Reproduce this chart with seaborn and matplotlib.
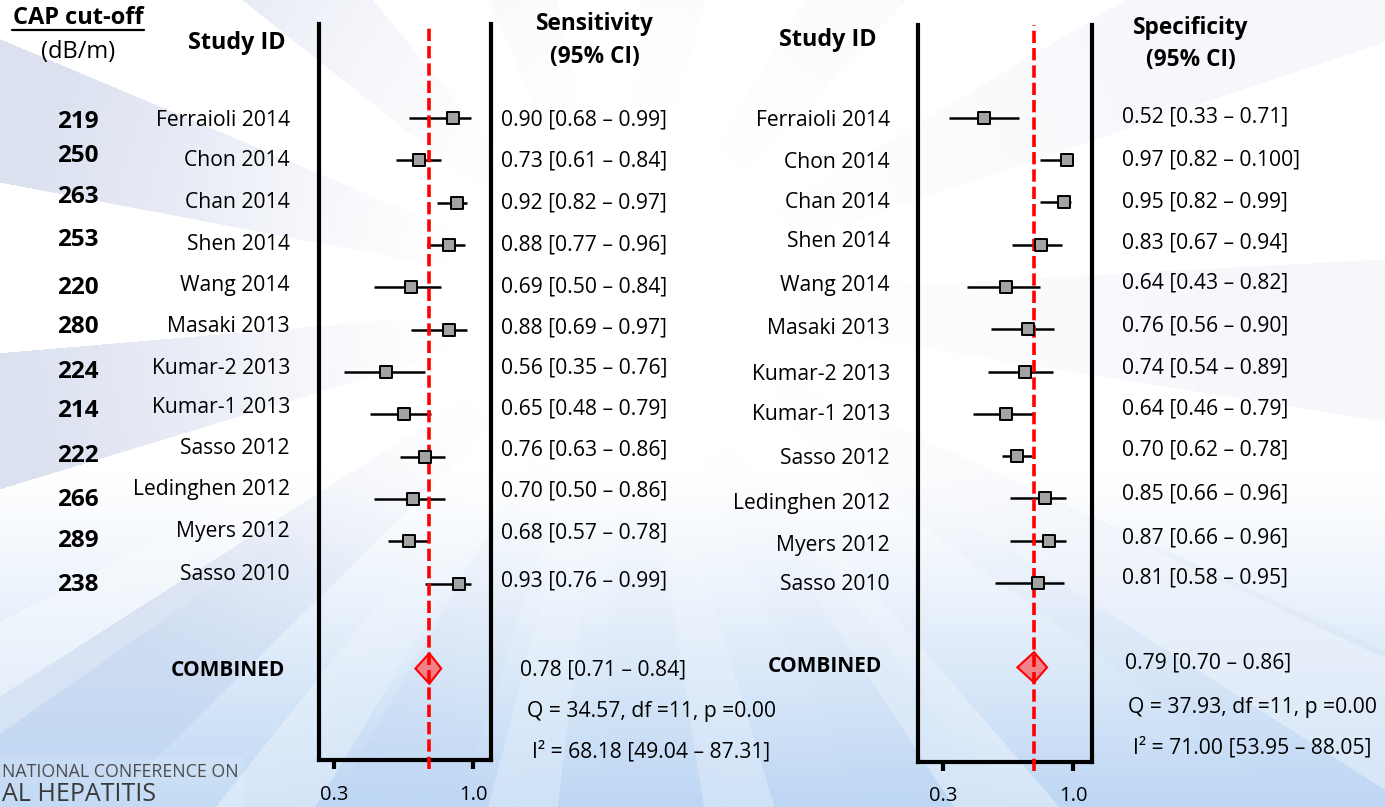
import numpy as np
import pandas as pd
import matplotlib
matplotlib.use("Agg")
import matplotlib.pyplot as plt
import seaborn as sns
from matplotlib.patches import Polygon, Rectangle
from matplotlib.lines import Line2D

# ---- data -------------------------------------------------------------
studies = ["Ferraioli 2014", "Chon 2014", "Chan 2014", "Shen 2014", "Wang 2014",
           "Masaki 2013", "Kumar-2 2013", "Kumar-1 2013", "Sasso 2012",
           "Ledinghen 2012", "Myers 2012", "Sasso 2010"]
cap_cutoff = [219, 250, 263, 253, 220, 280, 224, 214, 222, 266, 289, 238]

sens = [0.90, 0.73, 0.92, 0.88, 0.69, 0.88, 0.56, 0.65, 0.76, 0.70, 0.68, 0.93]
sens_lo = [0.68, 0.61, 0.82, 0.77, 0.50, 0.69, 0.35, 0.48, 0.63, 0.50, 0.57, 0.76]
sens_hi = [0.99, 0.84, 0.97, 0.96, 0.84, 0.97, 0.76, 0.79, 0.86, 0.86, 0.78, 0.99]

spec = [0.52, 0.97, 0.95, 0.83, 0.64, 0.76, 0.74, 0.64, 0.70, 0.85, 0.87, 0.81]
spec_lo = [0.33, 0.82, 0.82, 0.67, 0.43, 0.56, 0.54, 0.46, 0.62, 0.66, 0.66, 0.58]
spec_hi = [0.71, 1.00, 0.99, 0.94, 0.82, 0.90, 0.89, 0.79, 0.78, 0.96, 0.96, 0.95]
# upper bounds exactly as printed in the table column
spec_hi_printed = ["0.71", "0.100", "0.99", "0.94", "0.82", "0.90", "0.89", "0.79",
                   "0.78", "0.96", "0.96", "0.95"]

sens_pooled = (0.78, 0.71, 0.84)
spec_pooled = (0.79, 0.70, 0.86)
sens_het = ["Q = 34.57, df =11, p =0.00", "I\u00b2 = 68.18 [49.04 \u2013 87.31]"]
spec_het = ["Q = 37.93, df =11, p =0.00", "I\u00b2 = 71.00 [53.95 \u2013 88.05]"]

tick_values = [0.3, 1.0]
tick_labels = ["0.3", "1.0"]

# ---- figure setup -----------------------------------------------------
W, H = 1385, 807
sns.set_theme(style="white")
plt.rcParams["font.family"] = ["Open Sans", "DejaVu Sans"]
fig = plt.figure(figsize=(W / 100, H / 100), dpi=100)

# slide background: soft lavender rays on the left, light blue towards the bottom
yy, xx = np.mgrid[0:H, 0:W].astype(float)
cx, cy = 620.0, 300.0
ang = np.arctan2(yy - cy, xx - cx)
rad = np.hypot(xx - cx, yy - cy)
fade = np.clip((rad - 180) / 420, 0, 1)
side = 0.25 + 0.75 * np.clip((620 - xx) / 420, 0, 1)
rays = (np.sin(ang * 13 + 0.9) > 0.2).astype(float) * fade * side
white = np.array([1.0, 1.0, 1.0])
lav = np.array([0.865, 0.885, 0.945])
blue = np.array([0.74, 0.84, 0.955])
top = white * (1 - rays[..., None]) + lav * rays[..., None]
rays_b = (np.sin(ang * 15 + 0.3) > 0.55).astype(float) * np.clip((rad - 200) / 400, 0, 1)
bot = blue + 0.35 * rays_b[..., None] * (white - blue)
t = np.clip((yy - 470) / 337, 0, 1)[..., None] ** 1.2
img = top * (1 - t) + bot * t
bg = fig.add_axes([0, 0, 1, 1], zorder=-10)
bg.imshow(img, aspect="auto", extent=(0, W, H, 0))
bg.set_xlim(0, W)
bg.set_ylim(H, 0)
bg.axis("off")


def px_text(x, y, s, **kw):
    fig.text(x / W, 1 - y / H, s, **kw)


def make_axes(x0, x1, y0, y1):
    return fig.add_axes([x0 / W, 1 - y1 / H, (x1 - x0) / W, (y1 - y0) / H])


def draw_panel(ax, est, lo, hi, pooled, xlim, ylim, pad):
    ax.set_facecolor("none")
    rows = np.arange(len(est))
    df = pd.DataFrame({"est": est, "lo": lo, "hi": hi, "row": rows})
    ax.hlines(df["row"], df["lo"], df["hi"], color="black", lw=1.8, zorder=2)
    sns.scatterplot(data=df, x="est", y="row", marker="s", s=85, color="#a3a3a3",
                    edgecolor="black", linewidth=1.4, ax=ax, zorder=4, legend=False)
    pe, plo, phi = pooled
    crow = len(est) + 1
    ax.add_patch(Polygon([(plo, crow), (pe, crow - 0.36), (phi, crow), (pe, crow + 0.36)],
                         closed=True, facecolor=(1, 0.25, 0.25, 0.6), edgecolor="red",
                         lw=1.5, zorder=3))
    ax.axvline(pe, ymin=-0.012, ymax=1, color="red", lw=2.6, ls=(0, (3.4, 1.4)),
               clip_on=False, zorder=3)
    ax.set_xlim(*xlim)
    ax.set_ylim(*ylim)
    ax.set_xticks(tick_values)
    ax.set_xticklabels(tick_labels)
    ax.set_yticks([])
    ax.set_xlabel("")
    ax.set_ylabel("")
    ax.tick_params(axis="x", direction="out", length=6.5, width=3, pad=pad,
                   labelsize=14.5, colors="black", bottom=True)
    ax.spines["top"].set_visible(False)
    for side_name in ("left", "right", "bottom"):
        ax.spines[side_name].set_linewidth(3)
        ax.spines[side_name].set_color("black")
        ax.spines[side_name].set_capstyle("projecting")


ax1 = make_axes(319, 491, 24, 760)
draw_panel(ax1, sens, sens_lo, sens_hi, sens_pooled, (0.2245, 1.0906), (15.16, -2.22), 11.5)
ax2 = make_axes(918, 1092, 25, 762)
draw_panel(ax2, spec, spec_lo, spec_hi, spec_pooled, (0.165, 1.102), (15.24, -2.2), 11)

# ---- text columns -----------------------------------------------------
fs = 15.2
bold = dict(fontweight="bold", color="black")

px_text(78, 18, "CAP cut-off", ha="center", va="center", fontsize=17, **bold)
fig.add_artist(Line2D([12 / W, 144 / W], [1 - 30 / H, 1 - 30 / H], color="black", lw=1.6))
px_text(78, 52, "(dB/m)", ha="center", va="center", fontsize=17, color="black")
px_text(237, 43, "Study ID", ha="center", va="center", fontsize=16.8, **bold)
px_text(595, 24, "Sensitivity", ha="center", va="center", fontsize=16.3, **bold)
px_text(595, 57, "(95% CI)", ha="center", va="center", fontsize=16.3, **bold)
px_text(828, 40, "Study ID", ha="center", va="center", fontsize=16.8, **bold)
px_text(1191, 28, "Specificity", ha="center", va="center", fontsize=16.3, **bold)
px_text(1191, 60, "(95% CI)", ha="center", va="center", fontsize=16.3, **bold)

cap_y = [122, 156, 197, 240, 288, 327, 372, 411, 456, 500, 541, 585]
left_id_y = [120, 161, 202, 244, 286, 326, 368, 408, 449, 490, 532, 575]
sens_y = [120, 161, 203, 245, 287, 328, 368, 409, 450, 491, 533, 581]
right_id_y = [121, 162, 203, 242, 286, 328, 374, 414, 458, 503, 545, 584]
spec_y = [117, 160, 202, 243, 283, 326, 368, 409, 450, 494, 538, 578]

for i, name in enumerate(studies):
    px_text(78, cap_y[i], str(cap_cutoff[i]), ha="center", va="center", fontsize=17.5, **bold)
    px_text(290, left_id_y[i], name, ha="right", va="center", fontsize=fs, color="black")
    px_text(501, sens_y[i], f"{sens[i]:.2f} [{sens_lo[i]:.2f} \u2013 {sens_hi[i]:.2f}]",
            ha="left", va="center", fontsize=fs, color="black")
    px_text(890, right_id_y[i], name, ha="right", va="center", fontsize=fs, color="black")
    px_text(1122, spec_y[i], f"{spec[i]:.2f} [{spec_lo[i]:.2f} \u2013 {spec_hi_printed[i]}]",
            ha="left", va="center", fontsize=fs, color="black")

px_text(285, 671, "COMBINED", ha="right", va="center", fontsize=15, **bold)
px_text(882, 666, "COMBINED", ha="right", va="center", fontsize=15, **bold)
px_text(520, 670, f"{sens_pooled[0]:.2f} [{sens_pooled[1]:.2f} \u2013 {sens_pooled[2]:.2f}]",
        ha="left", va="center", fontsize=fs, color="black")
px_text(527, 711, sens_het[0], ha="left", va="center", fontsize=fs, color="black")
px_text(532, 752, sens_het[1], ha="left", va="center", fontsize=fs, color="black")
px_text(1125, 663, f"{spec_pooled[0]:.2f} [{spec_pooled[1]:.2f} \u2013 {spec_pooled[2]:.2f}]",
        ha="left", va="center", fontsize=fs, color="black")
px_text(1128, 707, spec_het[0], ha="left", va="center", fontsize=fs, color="black")
px_text(1133, 748, spec_het[1], ha="left", va="center", fontsize=fs, color="black")

# conference banner in the lower-left corner
fig.add_artist(Rectangle((0, 0), 245 / W, 50 / H, transform=fig.transFigure,
                         facecolor="white", alpha=0.12, edgecolor="none"))
px_text(2, 772, "NATIONAL CONFERENCE ON", ha="left", va="center",
        fontsize=12.8, color="#4d4d4d")
px_text(2, 807, "AL HEPATITIS", ha="left", va="bottom",
        fontsize=18, color="#3a3a3a")

fig.savefig("out.png", dpi=100)
